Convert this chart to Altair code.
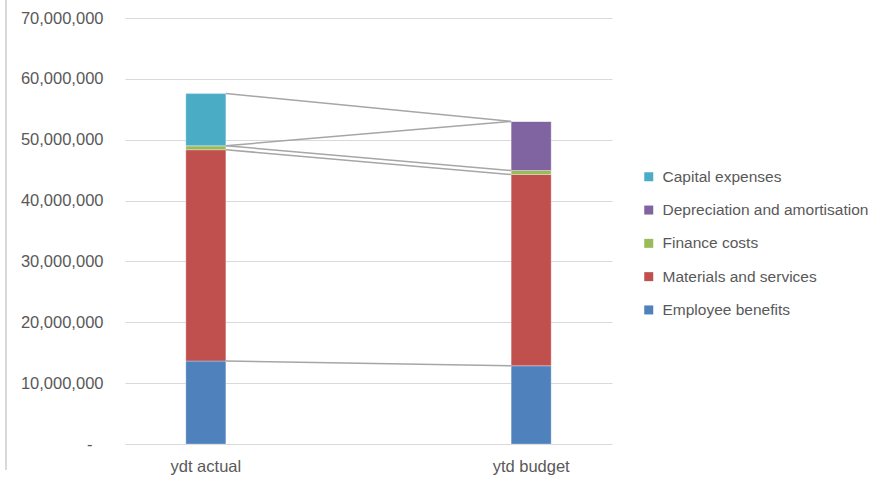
import altair as alt
import pandas as pd

# Categories and expense series (stacked bottom to top)
categories = ["ydt actual", "ytd budget"]
series = [
    "Employee benefits",
    "Materials and services",
    "Finance costs",
    "Depreciation and amortisation",
    "Capital expenses",
]
employee_benefits = [13_640_000, 12_850_000]
materials_services = [34_710_000, 31_430_000]
finance_costs = [660_000, 660_000]
depreciation_amortisation = [0, 8_070_000]
capital_expenses = [8_570_000, 0]

colors = ["#4F81BD", "#C0504D", "#9BBB59", "#8064A2", "#4BACC6"]
tick_values = [0, 10_000_000, 20_000_000, 30_000_000, 40_000_000,
               50_000_000, 60_000_000, 70_000_000]

values_by_series = [employee_benefits, materials_services, finance_costs,
                    depreciation_amortisation, capital_expenses]

rows = []
for i, (name, vals) in enumerate(zip(series, values_by_series)):
    for cat, v in zip(categories, vals):
        rows.append({"category": cat, "series": name, "order": i, "value": v})
bars_df = pd.DataFrame(rows)

# Series lines join the top of each series between the two stacks
link_rows = []
cum = [0, 0]
for name, vals in zip(series, values_by_series):
    cum = [cum[0] + vals[0], cum[1] + vals[1]]
    link_rows.append({"series": name, "from": categories[0], "to": categories[1],
                      "top_from": cum[0], "top_to": cum[1]})
links_df = pd.DataFrame(link_rows)

FONT = "Liberation Sans"
GREY_TEXT = "#595959"

x_scale = alt.Scale(domain=categories, paddingInner=0.877, paddingOuter=0.187)
y_scale = alt.Scale(domain=[0, 70_000_000], nice=False)

x_axis = alt.Axis(title=None, labelAngle=0, ticks=False, domain=False,
                  grid=False, labelPadding=14, labelFont=FONT,
                  labelFontSize=16.5, labelColor=GREY_TEXT)
# Accounting-style labels: zero is shown as a dash set in from the right edge
y_axis = alt.Axis(title=None, values=tick_values, ticks=False, domain=False,
                  gridColor="#D9D9D9", gridWidth=1,
                  labelPadding={"condition": {"test": "datum.value == 0", "value": 33},
                                "value": 22},
                  labelFont=FONT, labelFontSize=16.5, labelColor=GREY_TEXT,
                  labelExpr="datum.value == 0 ? '-' : format(datum.value, ',')")

bars = alt.Chart(bars_df).mark_bar(stroke="white", strokeWidth=0.5, strokeOpacity=0.6).encode(
    x=alt.X("category:N", scale=x_scale, sort=categories, axis=x_axis),
    y=alt.Y("value:Q", stack="zero", scale=y_scale, axis=y_axis),
    color=alt.Color("series:N", scale=alt.Scale(domain=series, range=colors),
                    legend=alt.Legend(title=None, values=list(reversed(series)),
                                      orient="none", legendX=516, legendY=151,
                                      symbolType="square", symbolSize=81,
                                      symbolStrokeWidth=0, labelFont=FONT,
                                      labelFontSize=15.5, labelColor=GREY_TEXT,
                                      labelLimit=400, rowPadding=16.3, labelOffset=6)),
    order=alt.Order("order:Q"),
)

links = alt.Chart(links_df).mark_rule(color="#A6A6A6", strokeWidth=1.5).encode(
    x=alt.X("from:N", scale=x_scale, sort=categories, bandPosition=1, axis=x_axis),
    x2=alt.X2("to:N", bandPosition=0),
    y=alt.Y("top_from:Q", scale=y_scale, axis=y_axis),
    y2=alt.Y2("top_to:Q"),
)

frame = alt.Chart(links_df).mark_rule(color="#D9D9D9", strokeWidth=2).encode(
    x=alt.value(-119), y=alt.value(-18), y2=alt.value(452)
)

chart = alt.layer(bars, links, frame).properties(
    width=487, height=426,
    background="white",
    padding={"left": 125, "top": 18, "right": 280, "bottom": 34},
    autosize=alt.AutoSizeParams(type="none"),
).configure_view(strokeWidth=0, stroke=None)

chart.save("out.html", embed_options={"renderer": "svg", "actions": False})
